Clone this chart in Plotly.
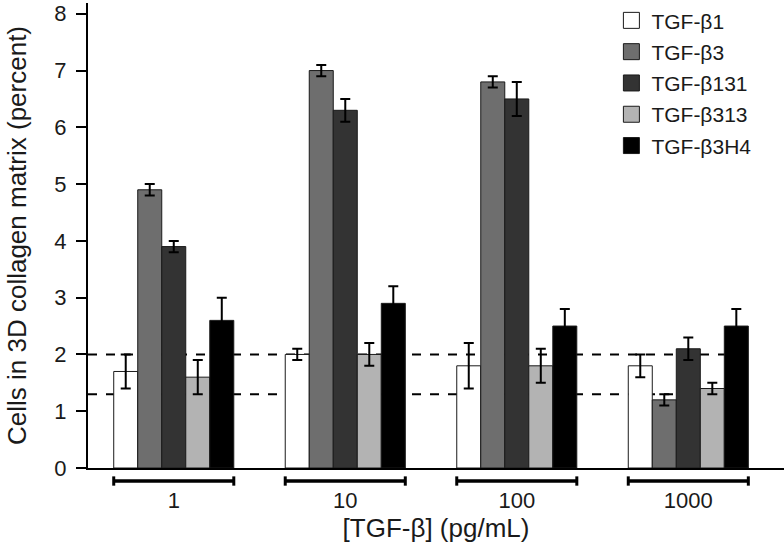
import plotly.graph_objects as go

# TGF-beta concentration groups
concentrations = ["1", "10", "100", "1000"]

series_names = ["TGF-β1", "TGF-β3", "TGF-β131", "TGF-β313", "TGF-β3H4"]
series_colors = ["#ffffff", "#6e6e6e", "#333333", "#b3b3b3", "#000000"]

tgf_b1 = [1.7, 2.0, 1.8, 1.8]
tgf_b1_err = [0.3, 0.1, 0.4, 0.2]
tgf_b3 = [4.9, 7.0, 6.8, 1.2]
tgf_b3_err = [0.1, 0.1, 0.1, 0.1]
tgf_b131 = [3.9, 6.3, 6.5, 2.1]
tgf_b131_err = [0.1, 0.2, 0.3, 0.2]
tgf_b313 = [1.6, 2.0, 1.8, 1.4]
tgf_b313_err = [0.3, 0.2, 0.3, 0.1]
tgf_b3h4 = [2.6, 2.9, 2.5, 2.5]
tgf_b3h4_err = [0.4, 0.3, 0.3, 0.3]

# reference levels (dashed lines)
ref_levels = [2.0, 1.3]

values = [tgf_b1, tgf_b3, tgf_b131, tgf_b313, tgf_b3h4]
errors = [tgf_b1_err, tgf_b3_err, tgf_b131_err, tgf_b313_err, tgf_b3h4_err]

font = "Liberation Sans, Arial, sans-serif"
half = 0.35  # half width of a group, in category units

fig = go.Figure()
for name, color, vals, errs in zip(series_names, series_colors, values, errors):
  fig.add_trace(go.Bar(
    x=concentrations, y=vals, name=name, showlegend=False,
    marker=dict(color=color, line=dict(color="#1a1a1a", width=1)),
    error_y=dict(type="data", array=errs, color="black", thickness=2, width=5),
  ))
  # bigger legend swatches
  fig.add_trace(go.Scatter(
    x=[None], y=[None], mode="markers", name=name, legendgroup=name,
    marker=dict(symbol="square", size=20, color=color, line=dict(color="#1a1a1a", width=1)),
  ))

# dashed reference lines spanning the groups
for lvl in ref_levels:
  fig.add_shape(type="line", xref="x", yref="y", x0=-0.5, x1=len(concentrations) - 1 + half,
                y0=lvl, y1=lvl, layer="below", line=dict(color="black", width=2, dash="dash"))

# brackets under each group
for i in range(len(concentrations)):
  fig.add_shape(type="line", xref="x", yref="paper", x0=i - half, x1=i + half, y0=-0.028, y1=-0.028,
                line=dict(color="black", width=3.5))
  for end in (i - half, i + half):
    fig.add_shape(type="line", xref="x", yref="paper", x0=end, x1=end, y0=-0.018, y1=-0.038,
                  line=dict(color="black", width=3))

fig.update_layout(
  width=784, height=547,
  margin=dict(l=88, r=0, t=0, b=79),
  paper_bgcolor="white", plot_bgcolor="white",
  barmode="group", bargap=0.30, bargroupgap=0,
  font=dict(family=font, size=22, color="#1a1a1a"),
  showlegend=True,
  legend=dict(x=0.752, y=1.006, xanchor="left", yanchor="top", font=dict(size=21),
              bgcolor="rgba(0,0,0,0)", tracegroupgap=1, itemsizing="trace"),
)
fig.update_xaxes(
  range=[-0.5, 3.558], showline=True, linecolor="black", linewidth=2, ticks="",
  showgrid=False, ticklabelstandoff=12, automargin=False,
  title=dict(text="[TGF-β] (pg/mL)", font=dict(size=26), standoff=4),
)
fig.update_yaxes(
  range=[0, 8.19], tickvals=[0, 1, 2, 3, 4, 5, 6, 7, 8], showline=True, linecolor="black",
  linewidth=2, ticks="outside", ticklen=10, tickwidth=2, tickcolor="black", showgrid=False,
  zeroline=False, automargin=False, ticklabelstandoff=5, ticklabeloverflow="allow",
  title=dict(text="Cells in 3D collagen matrix (percent)", font=dict(size=26), standoff=20),
)

# drop the browser's default body margin so the figure fills the window
fig.write_html("out.html", config={"displayModeBar": False},
               post_script="document.body.style.margin='0';")
